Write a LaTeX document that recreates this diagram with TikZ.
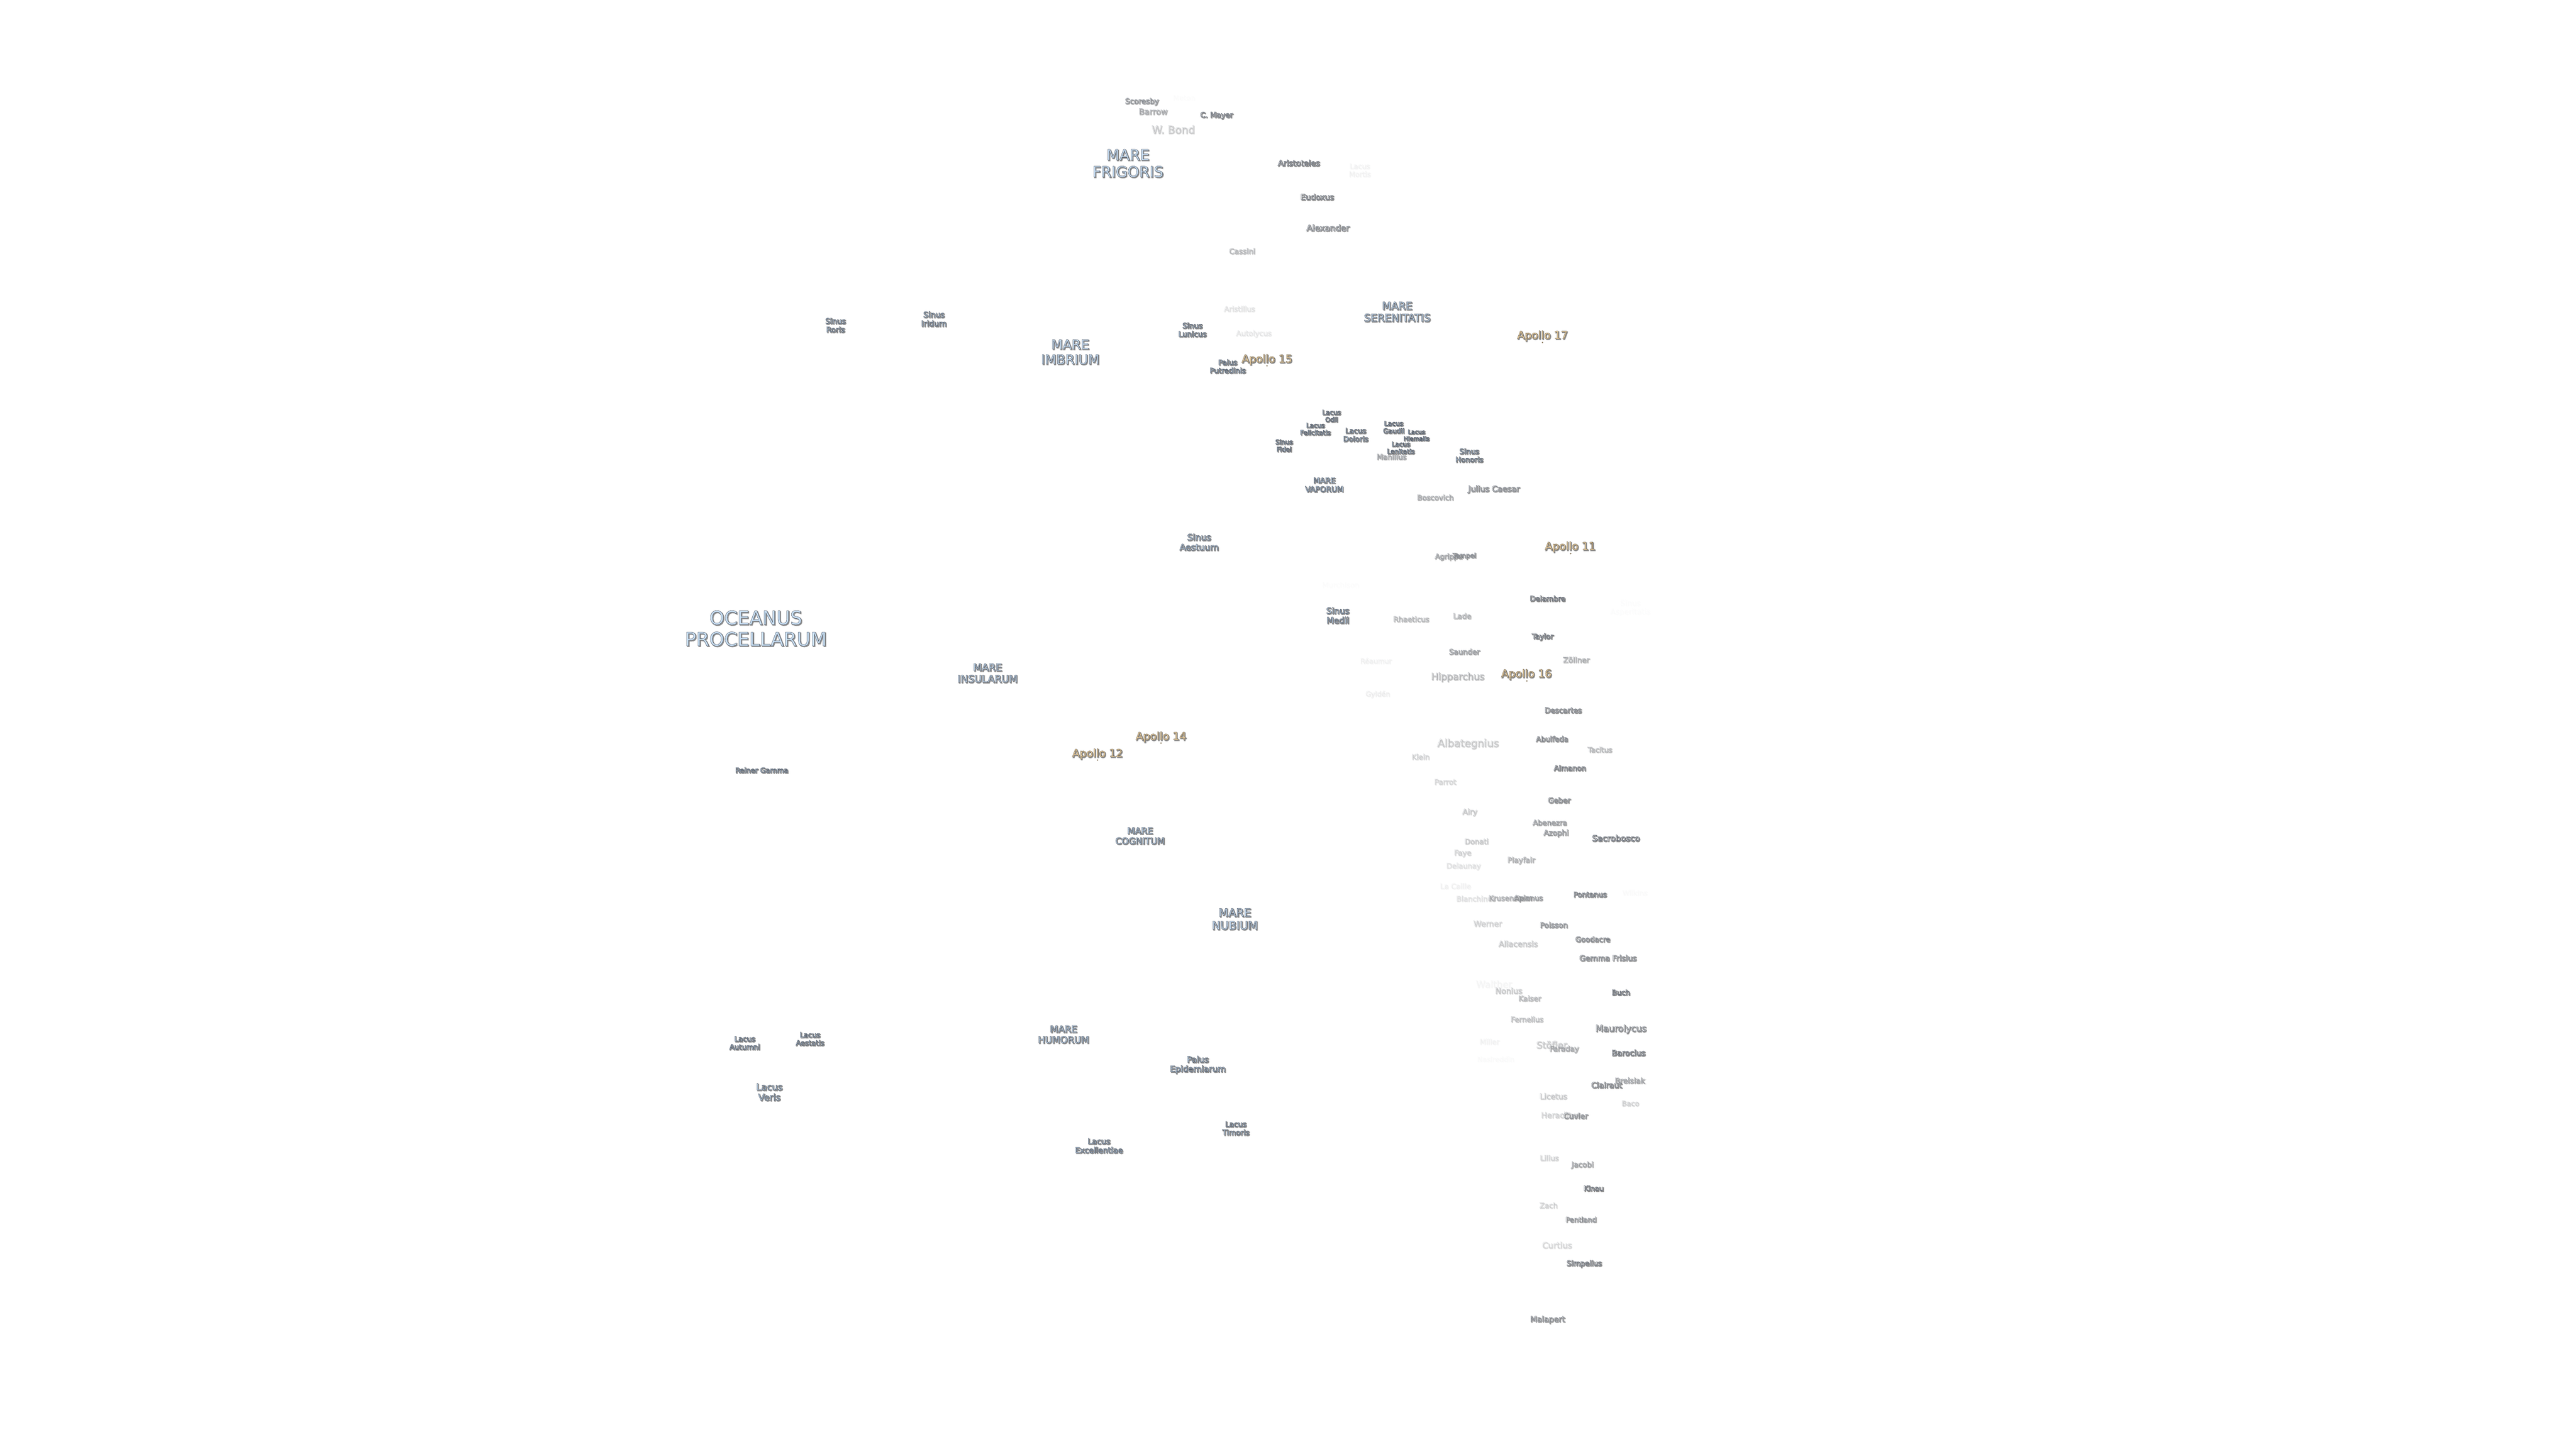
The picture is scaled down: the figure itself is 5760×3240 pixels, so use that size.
\documentclass[tikz,border=0pt]{standalone}
\usepackage{fontspec}
\setmainfont{DejaVu Sans}
\definecolor{marefill}{HTML}{CBE2F8}
\definecolor{craterfill}{HTML}{FFFFFF}
\definecolor{apollofill}{HTML}{FDDFAC}
\definecolor{halogray}{HTML}{909090}
\colorlet{lblfill}{craterfill}
\def\lbledge{.3 .33 .38}
\newcommand{\lbl}[1]{\leavevmode\rlap{\kern.5pt\raisebox{-.5pt}{\color{halogray}\special{pdf:code 2 Tr .48 w .56 .56 .56 RG}#1\special{pdf:code 0 Tr}}}%
  {\color{lblfill}\special{pdf:code 2 Tr .17 w \lbledge\space RG}#1\special{pdf:code 0 Tr}}}
\tikzset{
  sz/.style={font=\fontsize{#1pt}{1.13\dimexpr #1pt\relax}\selectfont},
  fade/.style={text opacity=#1},
  lunar/.style={inner sep=0pt, align=center},
  mare/.style={lunar, sz=#1, execute at begin node={\colorlet{lblfill}{marefill}}},
  crater/.style={lunar, sz=#1, execute at begin node={\colorlet{lblfill}{craterfill}}},
  apollo/.style={lunar, sz=6.85, execute at begin node={\colorlet{lblfill}{apollofill}\def\lbledge{.38 .34 .28}}},
  apollodot/.style={circle, fill=apollofill!55!black, inner sep=0pt, minimum size=0.035cm}
}
\begin{document}
\begin{tikzpicture}[x=0.01cm, y=-0.01cm]
\useasboundingbox (0,0) rectangle (5760,3240);

% seas, bays, lakes
\node[mare=12] (procellarum) at (1690,1406) {\lbl{OCEANUS}\\\lbl{PROCELLARUM}};
\node[mare=9.5] (frigoris) at (2522,366) {\lbl{MARE}\\\lbl{FRIGORIS}};
\node[mare=8.4] (imbrium) at (2393,788) {\lbl{MARE}\\\lbl{IMBRIUM}};
\node[mare=6.7] (serenitatis) at (3124,698) {\lbl{MARE}\\\lbl{SERENITATIS}};
\node[mare=6.4] (insularum) at (2208,1506) {\lbl{MARE}\\\lbl{INSULARUM}};
\node[mare=4.9] (vaporum) at (2961,1085) {\lbl{MARE}\\\lbl{VAPORUM}};
\node[mare=5.7] (cognitum) at (2549,1870) {\lbl{MARE}\\\lbl{COGNITUM}};
\node[mare=7.2] (nubium) at (2761,2056) {\lbl{MARE}\\\lbl{NUBIUM}};
\node[mare=6] (humorum) at (2378,2314) {\lbl{MARE}\\\lbl{HUMORUM}};

\node[mare=4.8] (roris) at (1868,728) {\lbl{Sinus}\\\lbl{Roris}};
\node[mare=5] (iridum) at (2088,714) {\lbl{Sinus}\\\lbl{Iridum}};
\node[mare=4.7] (lunicus) at (2666,738) {\lbl{Sinus}\\\lbl{Lunicus}};
\node[mare=5.6] (aestuum) at (2681,1213) {\lbl{Sinus}\\\lbl{Aestuum}};
\node[mare=5.4] (medii) at (2991,1377) {\lbl{Sinus}\\\lbl{Medii}};
\node[mare=4.1] (fidei) at (2871,997) {\lbl{Sinus}\\\lbl{Fidei}};
\node[mare=4.6] (honoris) at (3285,1019) {\lbl{Sinus}\\\lbl{Honoris}};
\node[mare=4.8, fade=0.012] (asperitatis) at (3645,1360) {\lbl{Sinus}\\\lbl{Asperitatis}};

\node[mare=4.6] (putredinis) at (2745,820) {\lbl{Palus}\\\lbl{Putredinis}};
\node[mare=5.3] (epidemiarum) at (2678,2382) {\lbl{Palus}\\\lbl{Epidemiarum}};

\node[mare=4.1] (odii) at (2977,931) {\lbl{Lacus}\\\lbl{Odii}};
\node[mare=4.1] (felicitatis) at (2941,960) {\lbl{Lacus}\\\lbl{Felicitatis}};
\node[mare=4.6] (doloris) at (3031,973) {\lbl{Lacus}\\\lbl{Doloris}};
\node[mare=4.2] (gaudii) at (3116,956) {\lbl{Lacus}\\\lbl{Gaudii}};
\node[mare=3.8] (hiemalis) at (3167,974) {\lbl{Lacus}\\\lbl{Hiemalis}};
\node[crater=4.6, fade=0.5] (manilius) at (3111,1022) {\lbl{Manilius}};
\node[mare=4.1] (lenitatis) at (3132,1002) {\lbl{Lacus}\\\lbl{Lenitatis}};
\node[mare=4.6] (autumni) at (1665,2333) {\lbl{Lacus}\\\lbl{Autumni}};
\node[mare=4.5] (aestatis) at (1811,2324) {\lbl{Lacus}\\\lbl{Aestatis}};
\node[mare=5.8] (veris) at (1720,2443) {\lbl{Lacus}\\\lbl{Veris}};
\node[mare=4.7] (timoris) at (2763,2524) {\lbl{Lacus}\\\lbl{Timoris}};
\node[mare=5] (excellentiae) at (2457,2563) {\lbl{Lacus}\\\lbl{Excellentiae}};
\node[mare=4.5] (reiner) at (1703,1723) {\lbl{Reiner Gamma}};

% landing sites
\node[apollo] (a11) at (3511,1224) {\lbl{Apollo 11}};
\node[apollodot] (a11dot) at (3512,1238) {};
\node[apollo] (a12) at (2454,1687) {\lbl{Apollo 12}};
\node[apollodot] (a12dot) at (2454,1700) {};
\node[apollo] (a14) at (2596,1649) {\lbl{Apollo 14}};
\node[apollodot] (a14dot) at (2596,1662) {};
\node[apollo] (a15) at (2833,805) {\lbl{Apollo 15}};
\node[apollodot] (a15dot) at (2833,818) {};
\node[apollo] (a16) at (3413,1509) {\lbl{Apollo 16}};
\node[apollodot] (a16dot) at (3414,1523) {};
\node[apollo] (a17) at (3449,752) {\lbl{Apollo 17}};
\node[apollodot] (a17dot) at (3449,766) {};

% craters, north part
\node[crater=4.5, fade=0.012] (meton) at (2647,219) {\lbl{Meton}};
\node[crater=4.7, fade=0.65] (scoresby) at (2553,228) {\lbl{Scoresby}};
\node[crater=5.2, fade=0.45] (barrow) at (2578,250) {\lbl{Barrow}};
\node[crater=4.7, fade=0.9] (mayer) at (2720,259) {\lbl{C. Mayer}};
\node[crater=6.7, fade=0.25] (bond) at (2623,290) {\lbl{W. Bond}};
\node[crater=5] (aristoteles) at (2904,365) {\lbl{Aristoteles}};
\node[crater=4.5, fade=0.05] (mortis) at (3040,381) {\lbl{Lacus}\\\lbl{Mortis}};
\node[crater=5, fade=0.9] (eudoxus) at (2945,441) {\lbl{Eudoxus}};
\node[crater=5.4, fade=0.8] (alexander) at (2969,510) {\lbl{Alexander}};
\node[crater=4.7, fade=0.35] (cassini) at (2777,562) {\lbl{Cassini}};
\node[crater=4.6, fade=0.12] (aristillus) at (2771,691) {\lbl{Aristillus}};
\node[crater=4.6, fade=0.1] (autolycus) at (2803,747) {\lbl{Autolycus}};

% craters, middle part
\node[crater=5.1, fade=0.75] (caesar) at (3340,1095) {\lbl{Julius Caesar}};
\node[crater=4.6, fade=0.45] (boscovich) at (3209,1113) {\lbl{Boscovich}};
\node[crater=4.5, fade=0.5] (agrippa) at (3239,1246) {\lbl{Agrippa}};
\node[crater=4.2, fade=0.65] (tempel) at (3274,1244) {\lbl{Tempel}};
\node[crater=4.6, fade=0.012] (murchison) at (2997,1308) {\lbl{Murchison}};
\node[crater=4.6] (delambre) at (3460,1339) {\lbl{Delambre}};
\node[crater=4.6, fade=0.35] (rhaeticus) at (3155,1385) {\lbl{Rhaeticus}};
\node[crater=4.7, fade=0.4] (lade) at (3269,1378) {\lbl{Lade}};
\node[crater=4.6] (taylor) at (3449,1425) {\lbl{Taylor}};
\node[crater=4.7, fade=0.55] (saunder) at (3274,1458) {\lbl{Saunder}};
\node[crater=4.4, fade=0.06] (reaumur) at (3076,1478) {\lbl{Réaumur}};
\node[crater=4.8, fade=0.4] (zollner) at (3524,1476) {\lbl{Zöllner}};
\node[crater=6, fade=0.35] (hipparchus) at (3259,1515) {\lbl{Hipparchus}};
\node[crater=4.4, fade=0.07] (gylden) at (3080,1553) {\lbl{Gyldén}};
\node[crater=4.7, fade=0.8] (descartes) at (3495,1589) {\lbl{Descartes}};
\node[crater=6.6, fade=0.25] (albategnius) at (3282,1664) {\lbl{Albategnius}};
\node[crater=4.6, fade=0.75] (abulfeda) at (3470,1653) {\lbl{Abulfeda}};
\node[crater=4.5, fade=0.35] (tacitus) at (3577,1677) {\lbl{Tacitus}};
\node[crater=4.6, fade=0.2] (klein) at (3176,1693) {\lbl{Klein}};
\node[crater=4.6, fade=0.9] (almanon) at (3510,1718) {\lbl{Almanon}};
\node[crater=4.7, fade=0.18] (parrot) at (3231,1749) {\lbl{Parrot}};
\node[crater=4.7, fade=0.75] (geber) at (3486,1790) {\lbl{Geber}};
\node[crater=4.8, fade=0.25] (airy) at (3286,1817) {\lbl{Airy}};
\node[crater=4.6, fade=0.55] (abenezra) at (3465,1840) {\lbl{Abenezra}};
\node[crater=4.7, fade=0.6] (azophi) at (3479,1864) {\lbl{Azophi}};
\node[crater=5.3] (sacrobosco) at (3613,1875) {\lbl{Sacrobosco}};
\node[crater=4.6, fade=0.25] (donati) at (3301,1882) {\lbl{Donati}};
\node[crater=4.7, fade=0.2] (faye) at (3270,1909) {\lbl{Faye}};
\node[crater=4.7, fade=0.4] (playfair) at (3401,1925) {\lbl{Playfair}};
\node[crater=4.6, fade=0.13] (delaunay) at (3272,1938) {\lbl{Delaunay}};

% craters, south part
\node[crater=4.6, fade=0.06] (lacaille) at (3254,1982) {\lbl{La Caille}};
\node[crater=4.6, fade=0.13] (blanchinus) at (3300,2010) {\lbl{Blanchinus}};
\node[crater=4.6, fade=0.4] (krusenstern) at (3377,2009) {\lbl{Krusenstern}};
\node[crater=4.6, fade=0.55] (apianus) at (3417,2010) {\lbl{Apianus}};
\node[crater=4.6, fade=0.85] (pontanus) at (3555,2001) {\lbl{Pontanus}};
\node[crater=4.5, fade=0.02] (wilkins) at (3655,1997) {\lbl{Wilkins}};
\node[crater=5, fade=0.2] (werner) at (3326,2066) {\lbl{Werner}};
\node[crater=4.7, fade=0.65] (poisson) at (3474,2069) {\lbl{Poisson}};
\node[crater=4.6, fade=0.75] (goodacre) at (3561,2101) {\lbl{Goodacre}};
\node[crater=5, fade=0.25] (aliacensis) at (3394,2111) {\lbl{Aliacensis}};
\node[crater=4.9, fade=0.75] (gemma) at (3595,2143) {\lbl{Gemma Frisius}};
\node[crater=5.9, fade=0.04] (walther) at (3340,2201) {\lbl{Walther}};
\node[crater=5, fade=0.25] (nonius) at (3373,2216) {\lbl{Nonius}};
\node[crater=4.7, fade=0.35] (kaiser) at (3420,2233) {\lbl{Kaiser}};
\node[crater=4.6] (buch) at (3624,2220) {\lbl{Buch}};
\node[crater=4.6, fade=0.3] (fernelius) at (3414,2280) {\lbl{Fernelius}};
\node[crater=5.7, fade=0.8] (maurolycus) at (3624,2302) {\lbl{Maurolycus}};
\node[crater=4.6, fade=0.05] (miller) at (3330,2330) {\lbl{Miller}};
\node[crater=5.9, fade=0.25] (stofler) at (3469,2337) {\lbl{Stöfler}};
\node[crater=4.7, fade=0.45] (faraday) at (3497,2347) {\lbl{Faraday}};
\node[crater=5] (barocius) at (3641,2355) {\lbl{Barocius}};
\node[crater=4.4, fade=0.02] (nasireddin) at (3344,2369) {\lbl{Nasireddin}};
\node[crater=4.8, fade=0.5] (breislak) at (3644,2417) {\lbl{Breislak}};
\node[crater=5, fade=0.8] (clairaut) at (3592,2427) {\lbl{Clairaut}};
\node[crater=4.9, fade=0.25] (licetus) at (3473,2452) {\lbl{Licetus}};
\node[crater=4.5, fade=0.2] (baco) at (3645,2468) {\lbl{Baco}};
\node[crater=4.9, fade=0.2] (heraclitus) at (3489,2494) {\lbl{Heraclitus}};
\node[crater=4.8, fade=0.6] (cuvier) at (3523,2496) {\lbl{Cuvier}};
\node[crater=4.6, fade=0.2] (lilius) at (3464,2590) {\lbl{Lilius}};
\node[crater=4.7, fade=0.5] (jacobi) at (3538,2606) {\lbl{Jacobi}};
\node[crater=4.5] (kinau) at (3563,2658) {\lbl{Kinau}};
\node[crater=4.6, fade=0.2] (zach) at (3462,2696) {\lbl{Zach}};
\node[crater=4.5, fade=0.6] (pentland) at (3535,2728) {\lbl{Pentland}};
\node[crater=5.3, fade=0.18] (curtius) at (3481,2785) {\lbl{Curtius}};
\node[crater=4.6, fade=0.9] (simpelius) at (3542,2827) {\lbl{Simpelius}};
\node[crater=5, fade=0.7] (malapert) at (3460,2952) {\lbl{Malapert}};
\end{tikzpicture}
\end{document}
